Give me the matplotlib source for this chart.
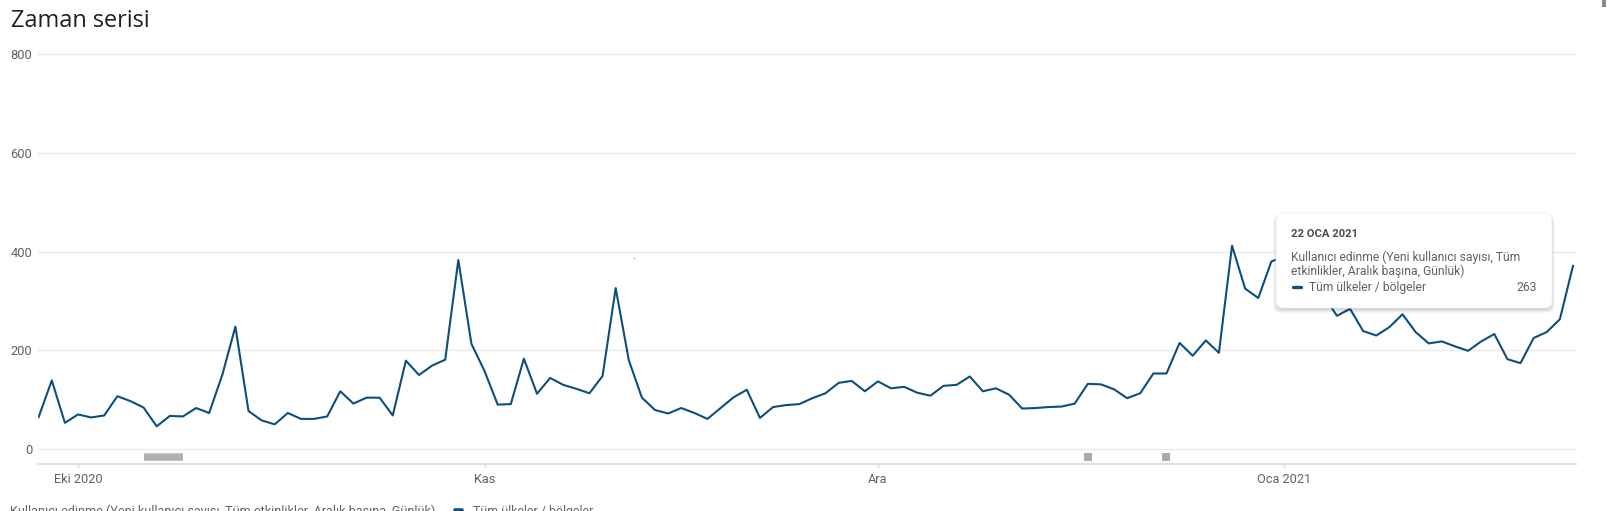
import pandas as pd
import matplotlib.pyplot as plt
from matplotlib.patches import FancyBboxPatch, Rectangle
from matplotlib.lines import Line2D
from matplotlib.transforms import IdentityTransform

# daily new users, 28 Sep 2020 .. 23 Jan 2021
start_date = '2020-09-28'
values = [65, 139, 53, 70, 64, 68, 107, 97, 84, 46,
          67, 66, 83, 73, 150, 248, 77, 58, 50, 73,
          61, 61, 66, 117, 92, 104, 104, 68, 179, 150,
          169, 181, 383, 213, 158, 90, 91, 183, 112, 144,
          130, 122, 113, 148, 326, 180, 104, 79, 72, 83,
          73, 61, 83, 105, 120, 63, 85, 89, 91, 103,
          113, 134, 138, 117, 137, 123, 126, 114, 108, 128,
          130, 147, 117, 123, 110, 82, 83, 85, 86, 92,
          132, 131, 121, 103, 113, 153, 153, 215, 189, 220,
          195, 412, 325, 306, 380, 390, 360, 340, 310, 270,
          284, 239, 230, 247, 273, 237, 214, 218, 208, 199,
          218, 233, 182, 174, 225, 237, 263, 371]
dates = pd.date_range(start_date, periods=len(values))

tick_dates = ['2020-10-01', '2020-11-01', '2020-12-01', '2021-01-01']
tick_labels = ['Eki 2020', 'Kas', 'Ara', 'Oca 2021']
y_ticks = [0, 200, 400, 600, 800]

# annotation markers under the chart
span_start = ['2020-10-06']
span_end = ['2020-10-09']
single_notes = ['2020-12-17', '2020-12-23']

metric = 'Kullanıcı edinme (Yeni kullanıcı sayısı, Tüm etkinlikler, Aralık başına, Günlük)'
series_name = 'Tüm ülkeler / bölgeler'
tip_date = '22 OCA 2021'
tip_value = '263'

W, H = 1608, 511
line_c = '#0d4f7c'
txt_c = '#5f6368'

fig = plt.figure(figsize=(W / 100, H / 100), dpi=100)
ax = fig.add_axes([38.3 / W, 1 - 464.3 / H, 1537.7 / W, 415 / H])

ax.plot(dates, values, color=line_c, lw=1.5, zorder=3)

for s, e in zip(span_start, span_end):
    ax.hlines(-16, pd.Timestamp(s), pd.Timestamp(e), color='#b0b0b0', lw=5.4, zorder=2)
ax.plot(pd.to_datetime(single_notes), [-16] * len(single_notes), 's',
        color='#ababab', ms=5.6, mew=0, zorder=2)

ax.set_xlim(dates[0] - pd.Timedelta(hours=0.7), dates[-1] + pd.Timedelta(hours=5.5))
ax.set_ylim(-31, 810)
ax.set_yticks(y_ticks)
ax.set_xticks(pd.to_datetime(tick_dates))
ax.set_xticklabels(tick_labels)
ax.grid(axis='y', color='#ebebeb', lw=1.0)
ax.set_axisbelow(True)
for s in ['top', 'right', 'left']:
    ax.spines[s].set_visible(False)
ax.spines['bottom'].set_color('#e0e0e0')
ax.spines['bottom'].set_linewidth(1.5)
ax.tick_params(axis='y', length=0, pad=4.3, labelsize=9.3, labelcolor=txt_c)
ax.tick_params(axis='x', length=3, width=1, color='#e0e0e0', pad=3.5,
               labelsize=9.2, labelcolor=txt_c)
for lab in ax.get_xticklabels() + ax.get_yticklabels():
    lab.set_fontfamily('Roboto')

fig.text(11 / W, 1 - 26.7 / H, 'Zaman serisi', fontsize=16.9, family='Open Sans',
         color='#202124', va='baseline')

# bottom legend (cut by the lower edge, as in the screenshot)
px = IdentityTransform()
fig.text(10, -4.0, metric, transform=px, fontsize=9.1, family='Roboto', color=txt_c,
         va='baseline')
fig.add_artist(Line2D([455, 462], [1.5, 1.5], transform=px, color=line_c, lw=2.6,
                      solid_capstyle='round'))
fig.text(472.7, -4.0, series_name, transform=px, fontsize=8.9, family='Roboto',
         color=txt_c, va='baseline')

# tooltip
bx0, by0, bx1, by1 = 1276, H - 308, 1552, H - 213
for i, a in enumerate([0.05, 0.05, 0.04, 0.03]):
    fig.add_artist(FancyBboxPatch((bx0 - i, by0 - 2 - i), bx1 - bx0 + 2 * i, by1 - by0 + i,
                                  boxstyle='round,pad=0,rounding_size=7', transform=px,
                                  fc='black', ec='none', alpha=a))
fig.add_artist(FancyBboxPatch((bx0, by0), bx1 - bx0, by1 - by0,
                              boxstyle='round,pad=0,rounding_size=7', transform=px,
                              fc='white', ec='#eeeeee', lw=0.5))
fig.text(1291, H - 234.3, tip_date, transform=px, fontsize=8.1, family='Roboto',
         weight='bold', color='#4a4d51', va='center')
fig.text(1291, H - 257.7, 'Kullanıcı edinme (Yeni kullanıcı sayısı, Tüm', transform=px,
         fontsize=8.7, family='Roboto', color=txt_c, va='center')
fig.text(1291, H - 271.7, 'etkinlikler, Aralık başına, Günlük)', transform=px,
         fontsize=8.7, family='Roboto', color=txt_c, va='center')
fig.add_artist(Line2D([1293, 1301], [H - 287, H - 287], transform=px, color=line_c,
                      lw=2.4, solid_capstyle='round'))
fig.text(1309.3, H - 287, series_name, transform=px, fontsize=8.7, family='Roboto',
         color=txt_c, va='center')
fig.text(1537, H - 287, tip_value, transform=px, fontsize=8.7, family='Roboto',
         color=txt_c, va='center', ha='right')

# small screenshot artefacts
fig.add_artist(Rectangle((1602, H - 7), 4, 7, transform=px, fc='#8a8a8a', ec='none'))
fig.add_artist(Rectangle((633.5, H - 259), 1.5, 1.5, transform=px, fc='#e03030', ec='none'))

fig.savefig('out.png', dpi=100)
